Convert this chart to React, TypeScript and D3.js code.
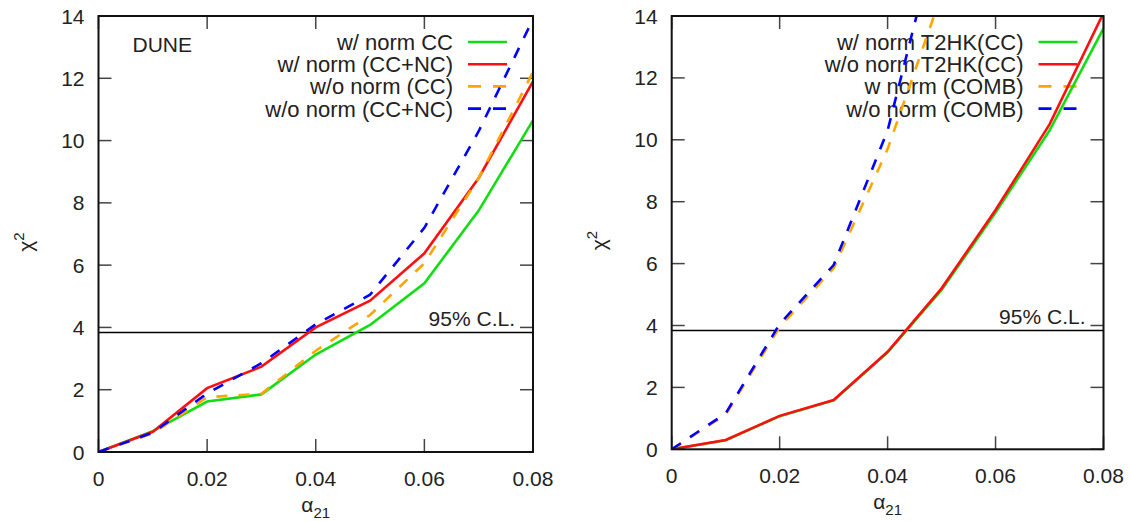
import React from "react";
import * as d3 from "d3";

// alpha_21 grid shared by every curve
const alpha = [0, 0.01, 0.02, 0.03, 0.04, 0.05, 0.06, 0.07, 0.08];
const xTicks = [0, 0.02, 0.04, 0.06, 0.08];
const yTicks = [0, 2, 4, 6, 8, 10, 12, 14];
const clLevel = 3.84;

// DUNE panel
const duneNormCC = [0, 0.67, 1.62, 1.85, 3.13, 4.08, 5.42, 7.75, 10.65];
const duneNormCCNC = [0, 0.65, 2.05, 2.74, 4.0, 4.86, 6.38, 8.8, 11.9];
const duneNoNormCC = [0, 0.6, 1.76, 1.87, 3.25, 4.4, 6.06, 8.8, 12.2];
const duneNoNormCCNC = [0, 0.62, 1.88, 2.85, 4.1, 5.05, 7.2, 10.3, 13.9];

// T2HK / combined panel (dashed curves leave the frame after 0.05)
const t2hkNorm = [0, 0.29, 1.07, 1.58, 3.13, 5.15, 7.65, 10.3, 13.6];
const t2hkNoNorm = [0, 0.3, 1.08, 1.59, 3.15, 5.2, 7.73, 10.5, 14.1];
const combNorm = [0, 1.12, 3.95, 5.85, 9.7, 14.7];
const combNoNorm = [0, 1.16, 4.05, 5.95, 10.3, 17.2];

const GREEN = "#11dd11";
const RED = "#ff1010";
const ORANGE = "#ffa500";
const BLUE = "#0000ff";
const FONT = "'Liberation Sans', Arial, Helvetica, sans-serif";

type Series = { label: string; values: number[]; color: string; dashed: boolean };

const leftSeries: Series[] = [
  { label: "w/ norm CC", values: duneNormCC, color: GREEN, dashed: false },
  { label: "w/ norm (CC+NC)", values: duneNormCCNC, color: RED, dashed: false },
  { label: "w/o norm (CC)", values: duneNoNormCC, color: ORANGE, dashed: true },
  { label: "w/o norm (CC+NC)", values: duneNoNormCCNC, color: BLUE, dashed: true },
];

const rightSeries: Series[] = [
  { label: "w/ norm T2HK(CC)", values: t2hkNorm, color: GREEN, dashed: false },
  { label: "w/o norm T2HK(CC)", values: t2hkNoNorm, color: RED, dashed: false },
  { label: "w norm (COMB)", values: combNorm, color: ORANGE, dashed: true },
  { label: "w/o norm (COMB)", values: combNoNorm, color: BLUE, dashed: true },
];

type PanelProps = {
  id: string;
  left: number;
  right: number;
  top: number;
  bottom: number;
  series: Series[];
  title?: string;
};

function Panel({ id, left, right, top, bottom, series, title }: PanelProps) {
  const x = d3.scaleLinear().domain([0, 0.08]).range([left, right]);
  const y = d3.scaleLinear().domain([0, 14]).range([bottom, top]);
  const line = d3
    .line<number>()
    .x((_, i) => x(alpha[i]))
    .y((d) => y(d));
  const tick = 13;
  const legendTextX = right - 80;
  const legendX0 = right - 65;
  const legendX1 = right - 26;

  return (
    <g>
      <defs>
        <clipPath id={id}>
          <rect x={left} y={top} width={right - left} height={bottom - top} />
        </clipPath>
      </defs>

      {/* ticks, mirrored on all four sides */}
      {yTicks.map((t) => (
        <g key={"y" + t} stroke="#444" strokeWidth={1.5}>
          <line x1={left} x2={left + tick} y1={y(t)} y2={y(t)} />
          <line x1={right} x2={right - tick} y1={y(t)} y2={y(t)} />
        </g>
      ))}
      {xTicks.map((t) => (
        <g key={"x" + t} stroke="#444" strokeWidth={1.5}>
          <line x1={x(t)} x2={x(t)} y1={bottom} y2={bottom - tick} />
          <line x1={x(t)} x2={x(t)} y1={top} y2={top + tick} />
        </g>
      ))}

      {/* tick labels */}
      {yTicks.map((t) => (
        <text
          key={"yl" + t}
          x={left - 14}
          y={y(t)}
          dy="0.36em"
          textAnchor="end"
          fontSize={21}
          fontFamily={FONT}
          fill="#222"
        >
          {t}
        </text>
      ))}
      {xTicks.map((t) => (
        <text
          key={"xl" + t}
          x={x(t)}
          y={bottom + 34}
          textAnchor="middle"
          fontSize={21}
          fontFamily={FONT}
          fill="#222"
        >
          {t === 0 ? "0" : d3.format(".2f")(t)}
        </text>
      ))}

      {/* axis titles */}
      <text
        x={(left + right) / 2}
        y={bottom + 60}
        textAnchor="middle"
        fontSize={21}
        fontFamily={FONT}
        fill="#222"
      >
        α<tspan fontSize={15} dy={6}>21</tspan>
      </text>
      <text
        transform={`translate(${left - 66},${(top + bottom) / 2 + 8}) rotate(-90)`}
        textAnchor="middle"
        fontSize={21}
        fontFamily={FONT}
        fill="#222"
      >
        χ<tspan fontSize={15} dy={-9}>2</tspan>
      </text>

      {/* 95% C.L. */}
      <line x1={left} x2={right} y1={y(clLevel)} y2={y(clLevel)} stroke="#000" strokeWidth={1.5} />
      <text
        x={right - 18}
        y={y(clLevel) - 6}
        textAnchor="end"
        fontSize={21}
        fontFamily={FONT}
        fill="#222"
      >
        95% C.L.
      </text>

      {title && (
        <text x={left + 34} y={top + 36} fontSize={21} fontFamily={FONT} fill="#222">
          {title}
        </text>
      )}

      {/* legend */}
      {series.map((s, i) => {
        const ly = top + 26 + i * 22.2;
        return (
          <g key={"lg" + i}>
            <text
              x={legendTextX}
              y={ly}
              dy="0.36em"
              textAnchor="end"
              fontSize={22}
              fontFamily={FONT}
              fill="#222"
            >
              {s.label}
            </text>
            <line
              x1={legendX0}
              x2={legendX1}
              y1={ly}
              y2={ly}
              stroke={s.color}
              strokeWidth={2.6}
              strokeDasharray={s.dashed ? "13 12" : undefined}
            />
          </g>
        );
      })}

      {/* curves */}
      <g clipPath={`url(#${id})`}>
        {series.map((s, i) => (
          <path
            key={"c" + i}
            d={line(s.values) || ""}
            fill="none"
            stroke={s.color}
            strokeWidth={2.6}
            strokeDasharray={s.dashed ? "11 11" : undefined}
          />
        ))}
      </g>

      {/* frame */}
      <rect
        x={left}
        y={top}
        width={right - left}
        height={bottom - top}
        fill="none"
        stroke="#111"
        strokeWidth={2}
      />
    </g>
  );
}

export default function App() {
  return (
    <svg
      width={1132}
      height={521}
      style={{ position: "absolute", left: 0, top: 0, background: "#fff" }}
    >
      <rect width={1132} height={521} fill="#fff" />
      <Panel id="clipL" left={98.5} right={533} top={16} bottom={452} series={leftSeries} title="DUNE" />
      <Panel id="clipR" left={671.7} right={1103.5} top={16} bottom={449.3} series={rightSeries} />
    </svg>
  );
}
